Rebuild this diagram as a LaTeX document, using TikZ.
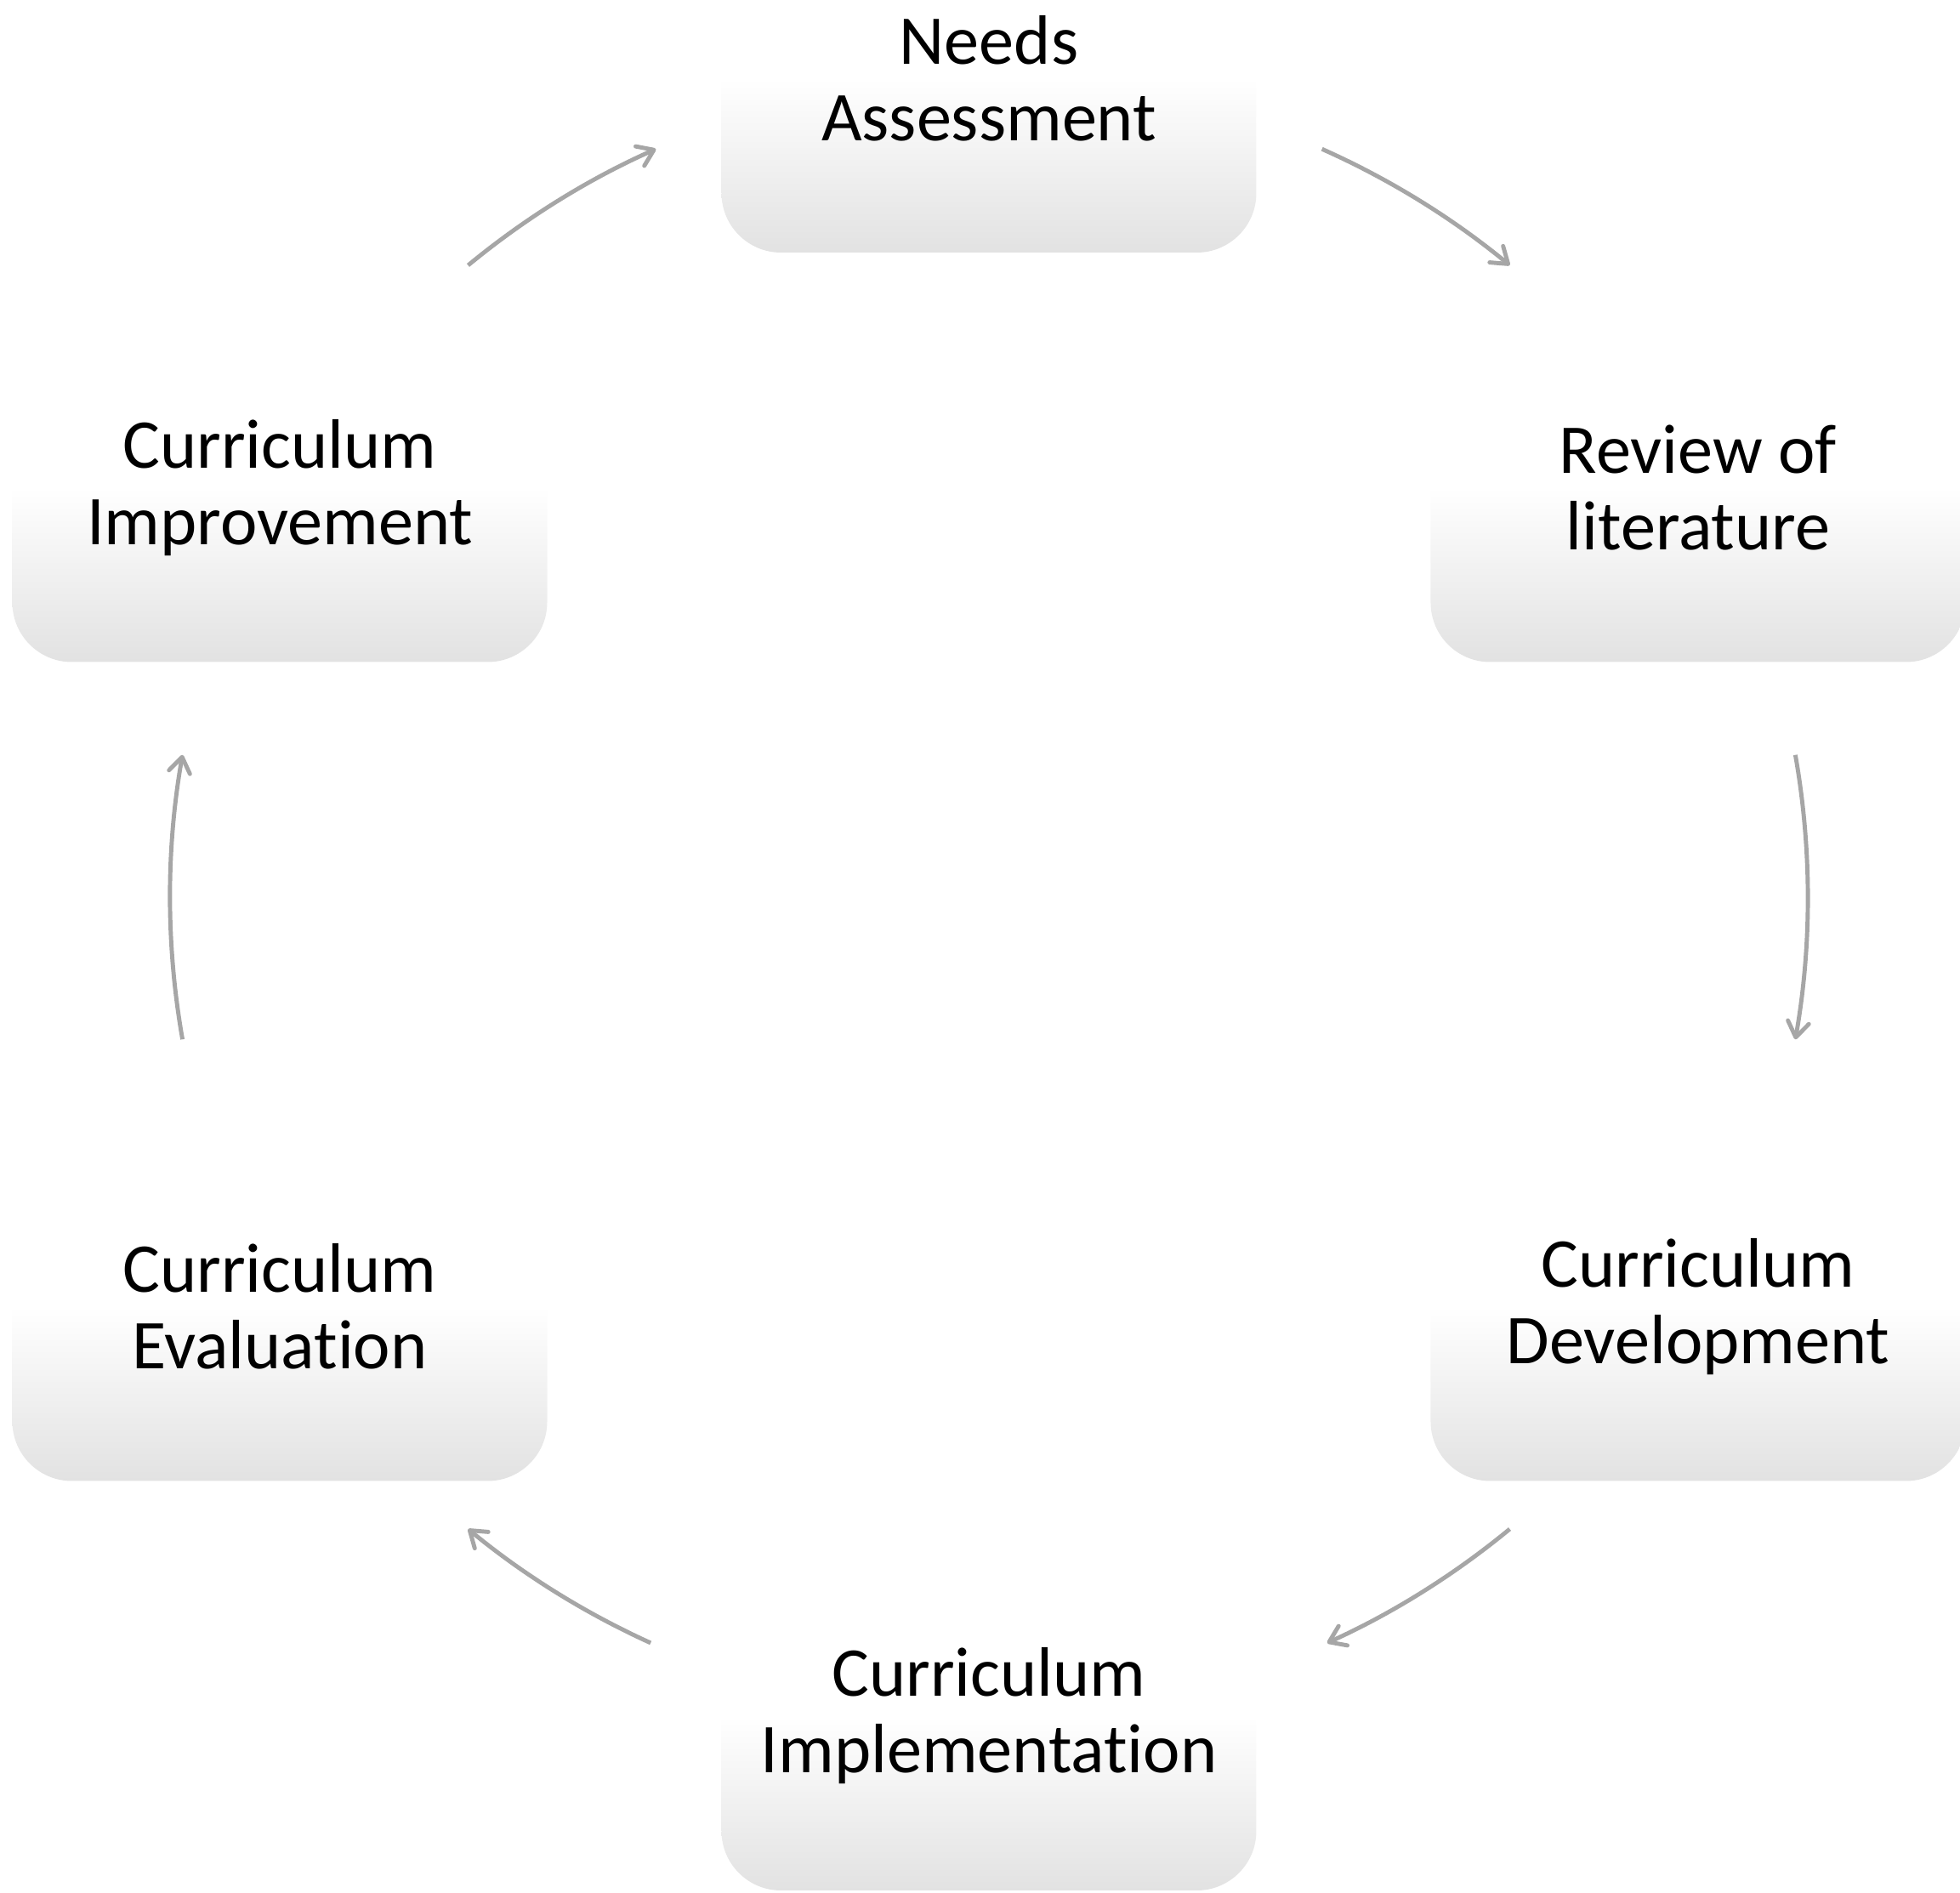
\documentclass[tikz,border=0pt]{standalone}
\usepackage{fontspec}
\setmainfont{Carlito}[Ligatures=NoCommon]
\usetikzlibrary{arrows.meta}
\definecolor{kastengrau}{RGB}{226,226,226}
\definecolor{pfeilgrau}{RGB}{166,166,166}
\tikzset{
  kasten/.style={rectangle, rounded corners=0.7cm, minimum width=6.29cm, minimum height=4.1cm,
    inner sep=0pt, top color=white, bottom color=kastengrau, middle color=white,
    align=center, font=\fontsize{23.4}{25.6}\selectfont},
  pfeil/.style={pfeilgrau, line width=1.4pt,
    -{Straight Barb[length=1.8mm,width=2.5mm,round]}}
}
\begin{document}
\begin{tikzpicture}
	\useasboundingbox (-11.63,10.55) rectangle (11.42,-11.71);
	\def\R{9.63}
	\coordinate (mitte) at (0,0);
	% Kaesten
	\node[kasten] (needs) at (90:\R) {Needs\\Assessment};
	\node[kasten] (review) at (30:\R) {Review of\\literature};
	\node[kasten] (devel) at (-30:\R) {Curriculum\\Development};
	\node[kasten] (impl) at (-90:\R) {Curriculum\\Implementation};
	\node[kasten] (eval) at (-150:\R) {Curriculum\\Evaluation};
	\node[kasten] (impr) at (150:\R) {Curriculum\\Improvement};
	% Pfeile
	\draw[pfeil] (mitte) ++(66:\R) arc (66:50.5:\R);
	\draw[pfeil] (mitte) ++(10:\R) arc (10:-10:\R);
	\draw[pfeil] (mitte) ++(-50.5:\R) arc (-50.5:-65.6:\R);
	\draw[pfeil] (mitte) ++(-114.4:\R) arc (-114.4:-129.5:\R);
	\draw[pfeil] (mitte) ++(190:\R) arc (190:170:\R);
	\draw[pfeil] (mitte) ++(129.5:\R) arc (129.5:114:\R);
\end{tikzpicture}
\end{document}
